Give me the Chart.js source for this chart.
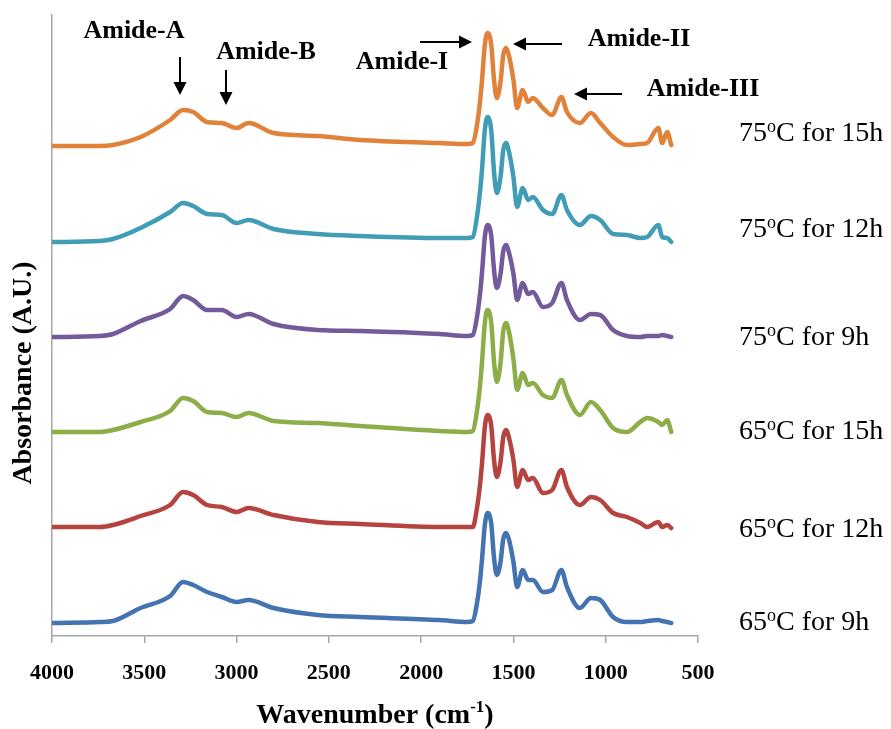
<!DOCTYPE html>
<html lang="en">
<head>
<meta charset="UTF-8">
<title>FTIR - Amide bands</title>
<script src="https://cdn.jsdelivr.net/npm/chart.js"></script>
<style>
    body {
        margin: 0;
        background-color: #FFF;
    }

    .caixa {
        width: 891px;
        height: 729px;
        position: relative;
    }
</style>
</head>
<body>
<div class="caixa">
    <canvas id="graficoFTIR"></canvas>
</div>

<script>
    // wavenumbers (cm-1) shared by all spectra
    const numerosOnda = [4000, 3740, 3670, 3520, 3360, 3290, 3235, 3160, 3080, 3000, 2935, 2800, 2560, 2330, 1900, 1750,
        1720, 1700, 1680, 1670, 1655, 1640, 1620, 1605, 1590, 1570, 1555, 1540, 1525, 1500, 1480, 1450, 1420, 1395,
        1340, 1290, 1240, 1210, 1140, 1080, 1030, 960, 885, 813, 775, 715, 694, 667, 645];

    // absorbance (A.U.), spectra already stacked with their offset
    const abs75_15h = [4.90, 4.90, 4.91, 4.99, 5.16, 5.26, 5.24, 5.14, 5.13, 5.08, 5.13, 5.03, 5.00, 4.96, 4.93, 4.92,
        4.93, 5.08, 5.36, 5.56, 5.91, 6.03, 5.91, 5.56, 5.38, 5.54, 5.81, 5.88, 5.81, 5.56, 5.28, 5.46, 5.34, 5.38,
        5.28, 5.21, 5.39, 5.24, 5.13, 5.23, 5.13, 4.99, 4.91, 4.92, 4.93, 5.08, 4.93, 5.04, 4.91];
    const abs75_12h = [3.94, 3.95, 3.97, 4.08, 4.24, 4.33, 4.30, 4.22, 4.21, 4.13, 4.16, 4.07, 4.02, 4.00, 3.98, 3.98,
        3.99, 4.16, 4.46, 4.67, 5.06, 5.19, 5.05, 4.64, 4.43, 4.59, 4.86, 4.93, 4.85, 4.59, 4.29, 4.48, 4.36, 4.39,
        4.26, 4.22, 4.41, 4.26, 4.11, 4.20, 4.16, 4.02, 4.01, 3.98, 3.99, 4.11, 3.99, 3.98, 3.94];
    const abs75_9h = [2.99, 3.00, 3.02, 3.15, 3.27, 3.40, 3.36, 3.26, 3.26, 3.19, 3.22, 3.12, 3.06, 3.05, 3.02, 3.00,
        3.01, 3.16, 3.44, 3.64, 3.99, 4.11, 4.00, 3.66, 3.48, 3.62, 3.85, 3.91, 3.84, 3.62, 3.36, 3.53, 3.42, 3.44,
        3.29, 3.33, 3.53, 3.36, 3.16, 3.22, 3.21, 3.06, 3.00, 2.99, 3.00, 3.00, 3.01, 3.00, 2.99];
    const abs65_15h = [2.04, 2.04, 2.06, 2.14, 2.25, 2.38, 2.35, 2.24, 2.23, 2.19, 2.23, 2.15, 2.13, 2.10, 2.05, 2.04,
        2.05, 2.22, 2.52, 2.74, 3.13, 3.26, 3.13, 2.74, 2.54, 2.73, 3.05, 3.13, 3.05, 2.77, 2.46, 2.63, 2.51, 2.53,
        2.41, 2.38, 2.56, 2.41, 2.21, 2.34, 2.26, 2.08, 2.04, 2.14, 2.18, 2.14, 2.11, 2.16, 2.04];
    const abs65_12h = [1.09, 1.09, 1.11, 1.20, 1.31, 1.44, 1.41, 1.31, 1.29, 1.24, 1.28, 1.21, 1.14, 1.12, 1.09, 1.09,
        1.09, 1.25, 1.53, 1.73, 2.09, 2.21, 2.10, 1.76, 1.59, 1.74, 1.99, 2.06, 1.99, 1.76, 1.49, 1.66, 1.56, 1.58,
        1.43, 1.46, 1.66, 1.49, 1.31, 1.39, 1.36, 1.23, 1.19, 1.13, 1.09, 1.14, 1.09, 1.11, 1.08];
    const abs65_9h = [0.13, 0.14, 0.15, 0.28, 0.40, 0.54, 0.51, 0.44, 0.39, 0.34, 0.36, 0.28, 0.21, 0.19, 0.16, 0.14,
        0.15, 0.30, 0.57, 0.77, 1.11, 1.23, 1.12, 0.78, 0.61, 0.74, 0.97, 1.03, 0.97, 0.74, 0.49, 0.66, 0.56, 0.56,
        0.44, 0.46, 0.66, 0.49, 0.28, 0.38, 0.36, 0.19, 0.14, 0.14, 0.15, 0.16, 0.15, 0.14, 0.13];

    // series labels, top to bottom: [temperature, time]
    const rotulos = [['75', '15h'], ['75', '12h'], ['75', '9h'], ['65', '15h'], ['65', '12h'], ['65', '9h']];
    const ticksX = [4000, 3500, 3000, 2500, 2000, 1500, 1000, 500];

    const fonte = '"Liberation Serif", "Times New Roman", serif';
    const cores = ['#E0823A', '#409DB5', '#725A9B', '#8CAD47', '#B5433F', '#4473B1'];
    const series = [abs75_15h, abs75_12h, abs75_9h, abs65_15h, abs65_12h, abs65_9h];

    function pontos(valores) {
        return numerosOnda.map(function (w, i) {
            return { x: w, y: valores[i] };
        });
    }

    // text made of pieces: [texto, tamanho, negrito, deslocamentoY]
    function escreverPartes(ctx, partes, x, y, alinhamento) {
        let total = 0;
        partes.forEach(function (p) {
            ctx.font = (p[2] ? 'bold ' : '') + p[1] + 'px ' + fonte;
            total += ctx.measureText(p[0]).width;
        });
        let cx = alinhamento === 'center' ? x - total / 2 : x;
        ctx.textAlign = 'left';
        ctx.textBaseline = 'middle';
        partes.forEach(function (p) {
            ctx.font = (p[2] ? 'bold ' : '') + p[1] + 'px ' + fonte;
            ctx.fillText(p[0], cx, y + p[3]);
            cx += ctx.measureText(p[0]).width;
        });
    }

    function seta(ctx, x1, y1, x2, y2) {
        const ang = Math.atan2(y2 - y1, x2 - x1);
        const comp = 13, larg = 6.5;
        ctx.beginPath();
        ctx.moveTo(x1, y1);
        ctx.lineTo(x2 - Math.cos(ang) * comp, y2 - Math.sin(ang) * comp);
        ctx.lineWidth = 2;
        ctx.strokeStyle = '#000';
        ctx.stroke();
        ctx.beginPath();
        ctx.moveTo(x2, y2);
        ctx.lineTo(x2 - Math.cos(ang) * comp - Math.sin(ang) * larg, y2 - Math.sin(ang) * comp + Math.cos(ang) * larg);
        ctx.lineTo(x2 - Math.cos(ang) * comp + Math.sin(ang) * larg, y2 - Math.sin(ang) * comp - Math.cos(ang) * larg);
        ctx.closePath();
        ctx.fillStyle = '#000';
        ctx.fill();
    }

    const anotacoes = {
        id: 'anotacoes',
        afterDraw: function (chart) {
            const ctx = chart.ctx;
            ctx.save();
            ctx.fillStyle = '#000';

            // band names and arrows
            escreverPartes(ctx, [['Amide-A', 26, true, 0]], 134, 31, 'center');
            escreverPartes(ctx, [['Amide-B', 26, true, 0]], 266, 52, 'center');
            escreverPartes(ctx, [['Amide-I', 26, true, 0]], 402, 62, 'center');
            escreverPartes(ctx, [['Amide-II', 26, true, 0]], 639, 39, 'center');
            escreverPartes(ctx, [['Amide-III', 26, true, 0]], 703, 89, 'center');
            seta(ctx, 180, 57, 180, 95);
            seta(ctx, 226, 70, 226, 105);
            seta(ctx, 420, 42, 472, 42);
            seta(ctx, 562, 44, 513, 44);
            seta(ctx, 622, 94, 574, 94);

            // series labels on the right
            const posY = [134, 230, 338, 432, 530, 623];
            ctx.fillStyle = '#000';
            rotulos.forEach(function (r, i) {
                escreverPartes(ctx, [
                    [r[0], 28, false, 0],
                    ['o', 18, false, -7],
                    ['C for ' + r[1], 28, false, 0]
                ], 739, posY[i], 'left');
            });

            // axis titles
            escreverPartes(ctx, [
                ['Wavenumber (cm', 28, true, 0],
                ['-1', 17, true, -8],
                [')', 28, true, 0]
            ], 375, 716, 'center');

            ctx.translate(24, 373);
            ctx.rotate(-Math.PI / 2);
            escreverPartes(ctx, [['Absorbance (A.U.)', 28, true, 0]], 0, 0, 'center');
            ctx.restore();
        }
    };

    const datasets = series.map(function (valores, i) {
        return {
            label: rotulos[i][0] + 'oC for ' + rotulos[i][1],
            data: pontos(valores),
            borderColor: cores[i],
            borderWidth: 4.5,
            pointRadius: 0,
            cubicInterpolationMode: 'monotone',
            borderJoinStyle: 'round',
            borderCapStyle: 'round',
            fill: false
        };
    });

    new Chart(document.getElementById('graficoFTIR'), {
        type: 'line',
        data: { datasets: datasets },
        plugins: [anotacoes],
        options: {
            responsive: true,
            maintainAspectRatio: false,
            animation: false,
            layout: { padding: { top: 15, right: 193, left: 0, bottom: 0 } },
            plugins: {
                legend: { display: false },
                tooltip: { enabled: false }
            },
            scales: {
                x: {
                    type: 'linear',
                    reverse: true,
                    min: 500,
                    max: 4000,
                    afterBuildTicks: function (scale) {
                        scale.ticks = ticksX.map(function (v) { return { value: v }; });
                    },
                    afterFit: function (scale) { scale.height = 93; },
                    ticks: {
                        color: '#000',
                        padding: 17,
                        maxRotation: 0,
                        font: { family: fonte, size: 22, weight: 'bold' },
                        callback: function (valor) { return String(valor); }
                    },
                    grid: { drawOnChartArea: false, tickLength: 7, color: '#A6A6A6', lineWidth: 1.5 },
                    border: { color: '#A6A6A6', width: 1.5 }
                },
                y: {
                    min: 0,
                    max: 6.21,
                    afterFit: function (scale) { scale.width = 52; },
                    ticks: { display: false },
                    grid: { display: false, drawTicks: false },
                    border: { display: true, color: '#A6A6A6', width: 1.5 }
                }
            }
        }
    });
</script>
</body>
</html>
